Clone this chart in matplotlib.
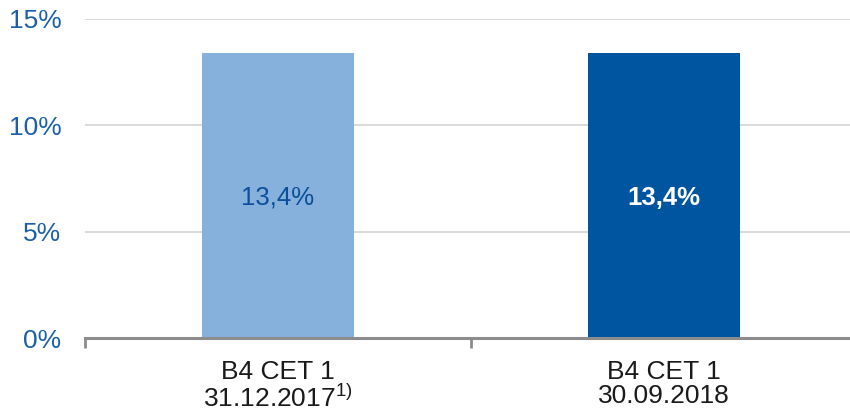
import matplotlib.pyplot as plt
from matplotlib.ticker import FixedLocator

plt.rcParams['font.family'] = ['Liberation Sans', 'DejaVu Sans']

# Données
categories = ['B4 CET 1\n31.12.2017$^{\\mathregular{1)}}$', 'B4 CET 1\n30.09.2018']
values = [13.4, 13.4]
value_labels = ['13,4%', '13,4%']
bar_colors = ['#86b1dc', '#0055a1']
label_colors = ['#0b4f9a', 'white']
label_weights = ['normal', 'bold']
y_ticks = [0, 5, 10, 15]
y_tick_labels = ['0%', '5%', '10%', '15%']

blue = '#1a5fa8'

fig = plt.figure(figsize=(8.5, 4.12), dpi=100)
ax = fig.add_axes([0.1, 0.1796, 0.908, 0.7745])

x = list(range(len(values)))
ax.bar(x, values, width=0.394, color=bar_colors, zorder=3)

for xi, v, lab, c, w in zip(x, values, value_labels, label_colors, label_weights):
    ax.text(xi, v / 2 - 0.1, lab, ha='center', va='center', fontsize=18.5,
            color=c, fontweight=w, zorder=4)

ax.set_xlim(-0.5, 1.5)
ax.set_ylim(0, 15)

# graduations y
ax.set_yticks(y_ticks)
ax.set_yticklabels(y_tick_labels, color=blue, fontsize=19)
ax.tick_params(axis='y', length=0, pad=17)
ax.grid(axis='y', color='#d4d4d4', linewidth=1.2, zorder=0)

# graduations x : traits aux limites, étiquettes au centre
ax.xaxis.set_major_locator(FixedLocator([-0.5, 0.5, 1.5]))
ax.set_xticklabels(['', '', ''])
ax.tick_params(axis='x', which='major', length=7, width=2, color='#8c8c8c', direction='out')
ax.xaxis.set_minor_locator(FixedLocator(x))
ax.set_xticklabels(categories, minor=True, fontsize=19, color='#1a1a1a', linespacing=1.0)
ax.tick_params(axis='x', which='minor', length=0, pad=16)

for s in ['top', 'right', 'left']:
    ax.spines[s].set_visible(False)
ax.spines['bottom'].set_color('#8c8c8c')
ax.spines['bottom'].set_linewidth(2.2)
ax.spines['bottom'].set_zorder(5)

fig.savefig('out.png', dpi=100)
